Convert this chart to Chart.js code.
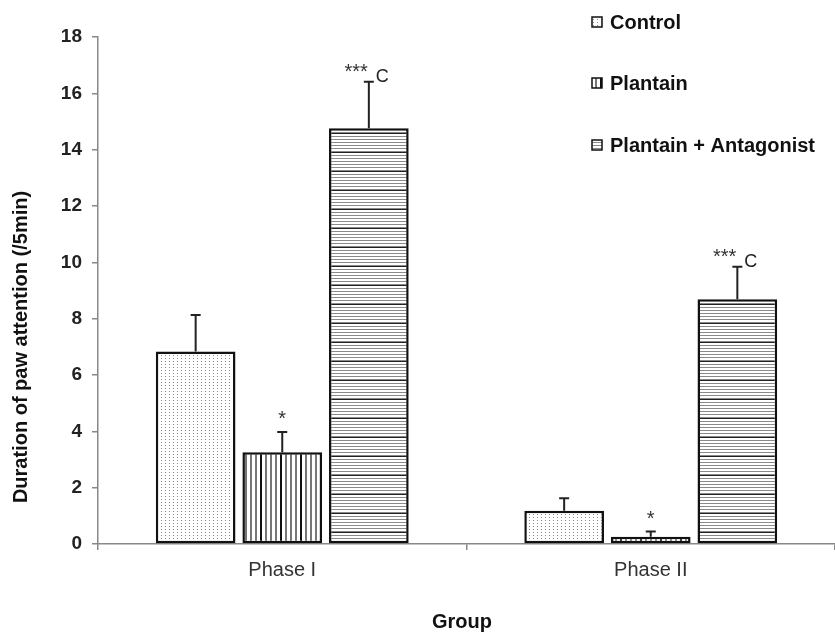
<!DOCTYPE html>
<html>
<head>
<meta charset="utf-8">
<script src="https://cdn.jsdelivr.net/npm/chart.js@4.4.1/dist/chart.umd.min.js"></script>
<style>
  html, body { margin: 0; padding: 0; background: #fff; }
  #wrap { width: 835px; height: 632px; position: relative; }
</style>
</head>
<body>
<div id="wrap"><canvas id="barChart"></canvas></div>
<script>
// data
const categories = ["Phase I", "Phase II"];
const seriesNames = ["Control", "Plantain", "Plantain + Antagonist"];
const controlValues = [6.83, 1.18];
const plantainValues = [3.26, 0.26];
const antagonistValues = [14.76, 8.69];
const controlErrors = [1.3, 0.44];
const plantainErrors = [0.72, 0.18];
const antagonistErrors = [1.65, 1.15];
const controlMarks = ["", ""];
const plantainMarks = ["*", "*"];
const antagonistMarks = ["***", "***"];
const antagonistLetters = ["C", "C"];
const yMax = 18;
const yStep = 2;
const yTitle = "Duration of paw attention (/5min)";
const xTitle = "Group";

const FONT = "'Liberation Sans', Arial, sans-serif";

// fill patterns, one per series
function makePattern(kind) {
  const c = document.createElement("canvas");
  const g = c.getContext("2d");
  if (kind === "dots") {
    c.width = 4; c.height = 3;
    g.fillStyle = "#fff"; g.fillRect(0, 0, 4, 3);
    g.fillStyle = "#8c8c8c"; g.fillRect(1, 1, 1, 1);
  } else if (kind === "vlines") {
    c.width = 20; c.height = 4;
    g.fillStyle = "#fff"; g.fillRect(0, 0, 20, 4);
    g.fillStyle = "#111"; g.fillRect(0, 0, 2, 4);
    g.fillStyle = "#777";
    g.fillRect(5, 0, 2, 4); g.fillRect(10, 0, 2, 4); g.fillRect(15, 0, 2, 4);
  } else {
    c.width = 4; c.height = 19;
    g.fillStyle = "#fff"; g.fillRect(0, 0, 4, 19);
    g.fillStyle = "#222"; g.fillRect(0, 0, 4, 1);
    g.fillStyle = "#8a8a8a";
    for (let y = 3; y < 19; y += 3) g.fillRect(0, y, 4, 1);
  }
  return g.createPattern(c, "repeat");
}
const fills = [makePattern("dots"), makePattern("vlines"), makePattern("hlines")];

const errors = [controlErrors, plantainErrors, antagonistErrors];
const marks = [controlMarks, plantainMarks, antagonistMarks];

// error bars + significance marks
const errorBarPlugin = {
  id: "errorBars",
  afterDatasetsDraw(chart) {
    const ctx = chart.ctx;
    const ys = chart.scales.y;
    chart.data.datasets.forEach((ds, i) => {
      const meta = chart.getDatasetMeta(i);
      meta.data.forEach((bar, j) => {
        const v = ds.data[j];
        const top = ys.getPixelForValue(v);
        const errTop = ys.getPixelForValue(v + errors[i][j]);
        ctx.save();
        ctx.strokeStyle = "#222";
        ctx.lineWidth = 2;
        ctx.beginPath();
        ctx.moveTo(bar.x, top);
        ctx.lineTo(bar.x, errTop);
        ctx.moveTo(bar.x - 5, errTop);
        ctx.lineTo(bar.x + 5, errTop);
        ctx.stroke();

        ctx.fillStyle = "#333";
        ctx.textBaseline = "alphabetic";
        const m = marks[i][j];
        if (m === "*") {
          ctx.font = "20px " + FONT;
          ctx.textAlign = "center";
          ctx.fillText(m, bar.x, errTop - 7);
        } else if (m === "***") {
          ctx.font = "20px " + FONT;
          ctx.textAlign = "right";
          ctx.fillText(m, bar.x - 1, errTop - 4);
          ctx.fillStyle = "#222";
          ctx.font = "18px " + FONT;
          ctx.textAlign = "left";
          ctx.fillText(antagonistLetters[j], bar.x + 7, errTop);
        }
        ctx.restore();
      });
    });
  }
};

// legend and axis titles
const decorPlugin = {
  id: "decor",
  afterDraw(chart) {
    const ctx = chart.ctx;
    ctx.save();
    const legendY = [22, 83, 145];
    seriesNames.forEach((name, i) => {
      ctx.fillStyle = fills[i];
      ctx.fillRect(592, legendY[i] - 5, 10, 10);
      ctx.strokeStyle = "#111";
      ctx.lineWidth = 1.5;
      ctx.strokeRect(592, legendY[i] - 5, 10, 10);
      ctx.fillStyle = "#111";
      ctx.font = "bold 20px " + FONT;
      ctx.textAlign = "left";
      ctx.textBaseline = "middle";
      ctx.fillText(name, 610, legendY[i] + 1);
    });

    ctx.font = "bold 20px " + FONT;
    ctx.fillStyle = "#111";
    ctx.textAlign = "center";
    ctx.textBaseline = "middle";
    ctx.fillText(xTitle, 462, 622);

    ctx.translate(21, 347);
    ctx.rotate(-Math.PI / 2);
    ctx.fillText(yTitle, 0, 0);
    ctx.restore();
  }
};

new Chart(document.getElementById("barChart"), {
  type: "bar",
  data: {
    labels: categories,
    datasets: [
      { label: seriesNames[0], data: controlValues, backgroundColor: fills[0] },
      { label: seriesNames[1], data: plantainValues, backgroundColor: fills[1] },
      { label: seriesNames[2], data: antagonistValues, backgroundColor: fills[2] }
    ].map(d => Object.assign(d, {
      borderColor: "#111",
      borderWidth: 2.5,
      borderSkipped: false,
      barPercentage: 0.92,
      categoryPercentage: 0.705
    }))
  },
  options: {
    responsive: true,
    maintainAspectRatio: false,
    animation: false,
    layout: { padding: { top: 37, right: 0, left: 0, bottom: 0 } },
    plugins: {
      legend: { display: false },
      tooltip: { enabled: false }
    },
    scales: {
      x: {
        afterFit: s => { s.height = 88; },
        grid: { drawOnChartArea: false, drawTicks: true, tickLength: 6, color: "#888", lineWidth: 1.5 },
        border: { color: "#888", width: 1.5 },
        ticks: { color: "#333", padding: 8, font: { family: FONT, size: 20 } }
      },
      y: {
        min: 0,
        max: yMax,
        afterFit: s => { s.width = 98; },
        grid: { drawOnChartArea: false, drawTicks: true, tickLength: 6, color: "#888", lineWidth: 1.5 },
        border: { color: "#888", width: 1.5 },
        ticks: { stepSize: yStep, color: "#222", padding: 10, font: { family: FONT, size: 19, weight: "bold" } }
      }
    }
  },
  plugins: [errorBarPlugin, decorPlugin]
});
</script>
</body>
</html>
